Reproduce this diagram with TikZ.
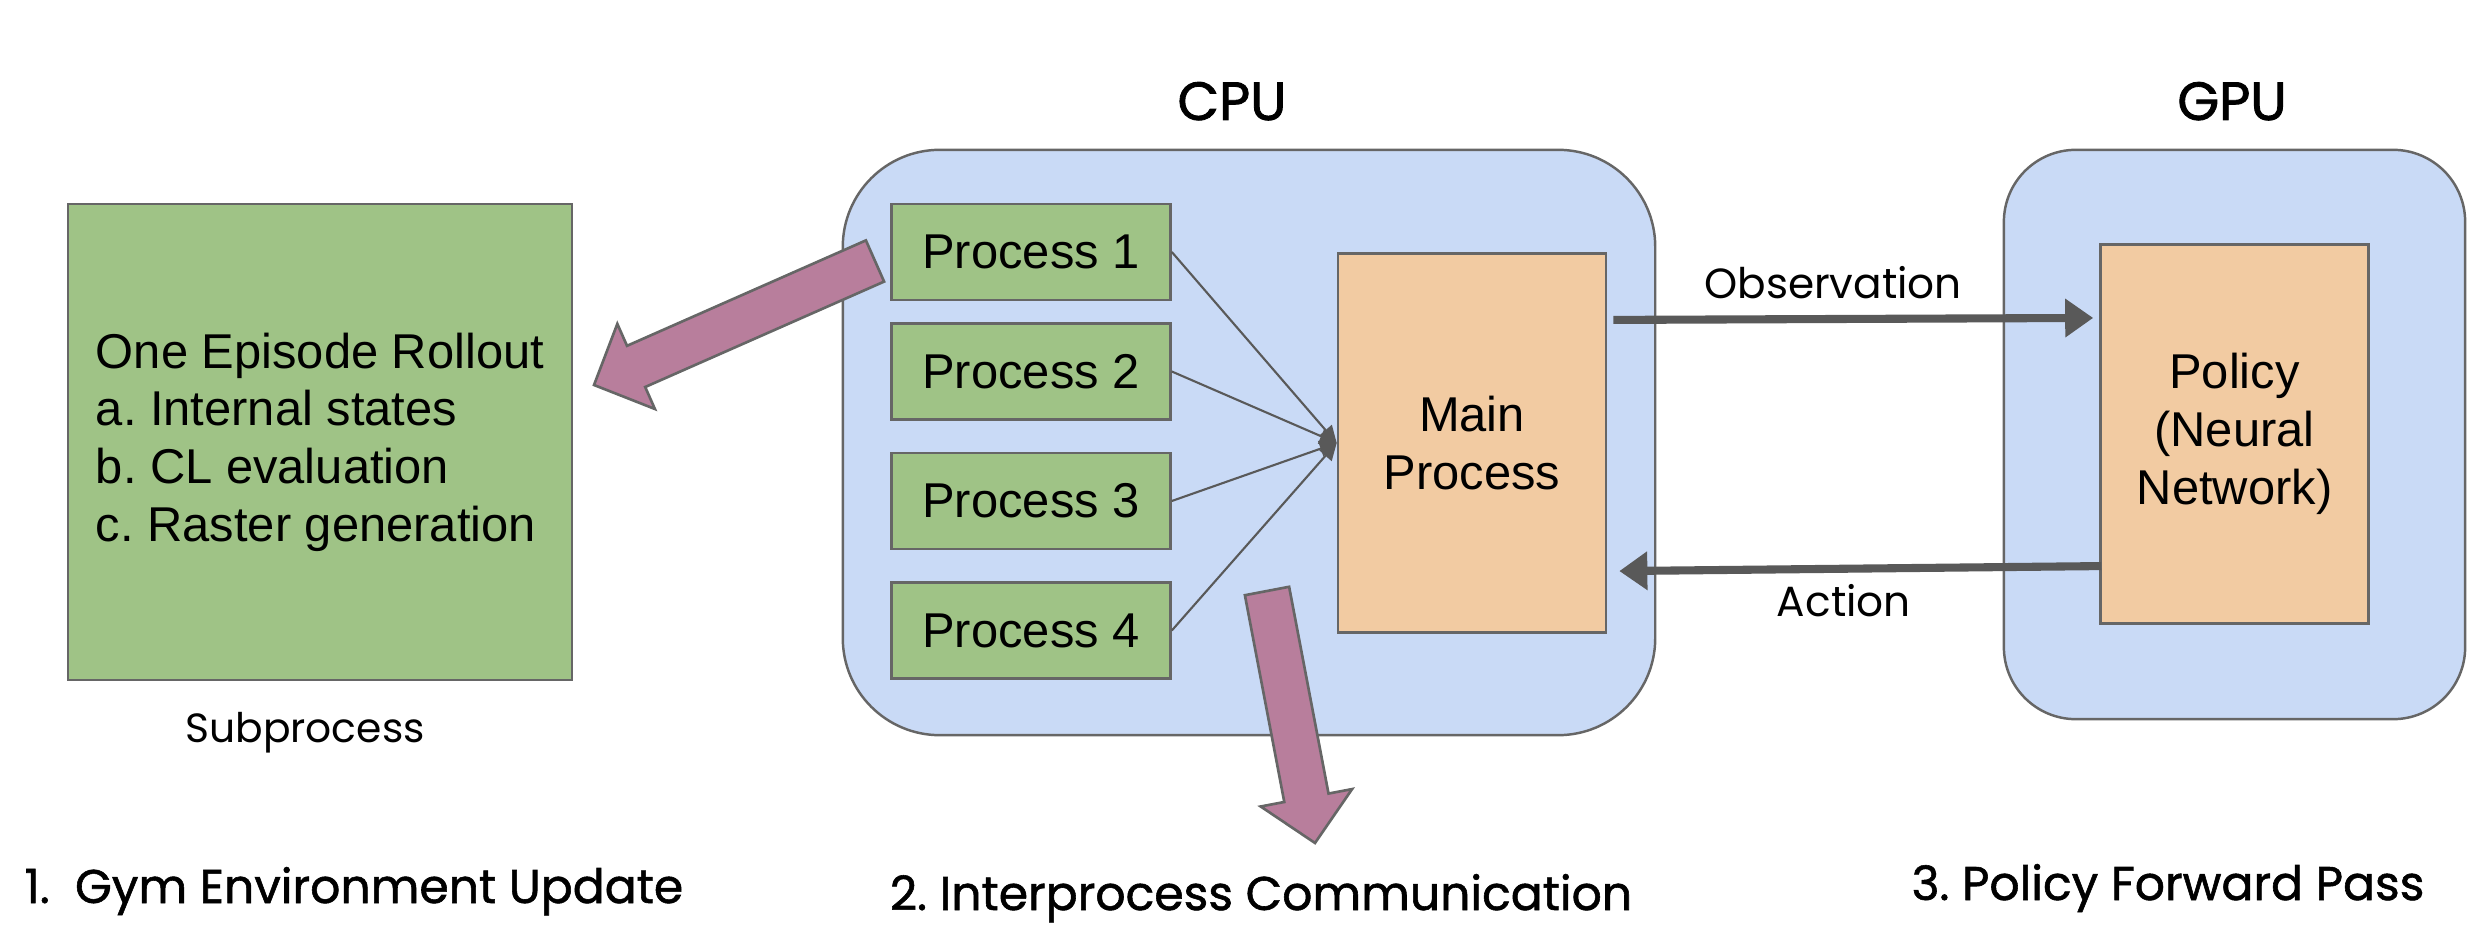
\documentclass[tikz,border=0pt]{standalone}
\usepackage{fontspec}
\setmainfont{Liberation Sans}
\newfontfamily\headfont{Poppins}
\newfontfamily\headboldfont{Poppins}[FakeBold=1.6]
\newfontfamily\stepfont{Poppins}[FakeBold=1.2]
\usetikzlibrary{arrows.meta,calc}
\frenchspacing

\definecolor{procgreen}{HTML}{9FC386}
\definecolor{cpublue}{HTML}{C9DAF6}
\definecolor{mainorange}{HTML}{F2CBA2}
\definecolor{ipcpink}{HTML}{B87E9C}
\definecolor{edgegray}{HTML}{595959}
\definecolor{linegray}{HTML}{666666}

\tikzset{
  box/.style={draw=linegray, line width=0.7pt, inner sep=0pt, align=center,
    font=\fontsize{13.9}{16.4}\selectfont},
  procbox/.style={box, fill=procgreen, minimum width=2.79cm, minimum height=0.96cm},
  corebox/.style={box, fill=mainorange, minimum width=2.68cm, minimum height=3.79cm},
  rolloutbox/.style={box, fill=procgreen, align=left, minimum width=5.04cm, minimum height=4.76cm},
  devicebox/.style={draw=linegray, line width=0.7pt, fill=cpublue},
  headtext/.style={font=\headboldfont\fontsize{15.3}{18}\selectfont, anchor=base, inner sep=0pt},
  steptext/.style={font=\stepfont\fontsize{13.45}{16}\selectfont, anchor=base, inner sep=0pt},
  edgetext/.style={font=\headfont\fontsize{12}{14}\selectfont, inner sep=0pt},
  thinarrow/.style={draw=edgegray, line width=0.6pt, -{Triangle[length=0.17cm, width=0.16cm]}},
  bigarrow/.style={draw=edgegray, line width=2.3pt, -{Triangle[length=0.28cm, width=0.37cm]}},
  fatarrow/.style={fill=ipcpink, draw=linegray, line width=0.75pt, line join=miter},
}

% broad outlined arrow from #1 (tail) to #2 (tip)
\newcommand{\fatarrow}[2]{%
  \coordinate (neck) at ($(#2)!0.46cm!(#1)$);
  \draw[fatarrow] ($(#1)!0.225cm!90:(#2)$) -- ($(neck)!0.225cm!90:(#2)$)
    -- ($(neck)!0.465cm!90:(#2)$) -- (#2) -- ($(neck)!0.465cm!-90:(#2)$)
    -- ($(neck)!0.225cm!-90:(#2)$) -- ($(#1)!0.225cm!-90:(#2)$) -- cycle;}

\begin{document}
\begin{tikzpicture}[x=0.01cm, y=-0.01cm]
  \useasboundingbox (0,0) rectangle (2488,952);

  % Device frames
  \node[devicebox, rounded corners=0.97cm, minimum width=8.12cm, minimum height=5.85cm] (cpu) at (1249,442.5) {};
  \node[devicebox, rounded corners=0.72cm, minimum width=4.61cm, minimum height=5.69cm] (gpu) at (2234.5,434.5) {};
  \node[headtext] (cpulabel) at (1232,120) {CPU};
  \node[headtext] (gpulabel) at (2232,120) {GPU};

  % Worker processes on the CPU
  \node[procbox] (p1) at (1031,252) {Process 1};
  \node[procbox] (p2) at (1031,371.5) {Process 2};
  \node[procbox] (p3) at (1031,501) {Process 3};
  \node[procbox] (p4) at (1031,630.5) {Process 4};
  \node[corebox] (mainproc) at (1472,443) {Main\\Process};

  % Policy on the GPU
  \node[corebox] (policy) at (2234.5,434) {Policy\\(Neural\\Network)};

  % One subprocess
  \node[rolloutbox] (rollout) at (320,442) {One Episode Rollout\\a. Internal states\\b. CL evaluation\\c. Raster generation};
  \node[edgetext, anchor=base, font=\headfont\fontsize{11.6}{14}\selectfont] (sublabel) at (305,742) {Subprocess};

  % Processes report to the main process
  \draw[thinarrow] (p1.east) -- (mainproc.west);
  \draw[thinarrow] (p2.east) -- (mainproc.west);
  \draw[thinarrow] (p3.east) -- (mainproc.west);
  \draw[thinarrow] (p4.east) -- (mainproc.west);

  % Observation / action exchange
  \draw[bigarrow] ([xshift=0.06cm, yshift=1.23cm]mainproc.east) -- ([xshift=-0.06cm, yshift=1.16cm]policy.west)
    node[pos=0.458, above=0.165cm, edgetext] {Observation};
  \draw[bigarrow] ([xshift=0.02cm, yshift=-1.32cm]policy.west) -- ([xshift=0.12cm, yshift=-1.28cm]mainproc.east)
    node[pos=0.534, below=0.12cm, edgetext] {Action};

  % Broad arrows
  \coordinate (rolltail) at (875,261);
  \coordinate (rolltip) at (594,385);
  \coordinate (ipctail) at (1267,591);
  \coordinate (ipctip) at (1315,843);
  \fatarrow{rolltail}{rolltip}
  \fatarrow{ipctail}{ipctip}

  % Stage captions
  \node[steptext, anchor=base west] (step1) at (24,903) {1.~ Gym Environment Update};
  \node[steptext] (step2) at (1261,910) {2. Interprocess Communication};
  \node[steptext] (step3) at (2168,900) {3. Policy Forward Pass};
\end{tikzpicture}
\end{document}
